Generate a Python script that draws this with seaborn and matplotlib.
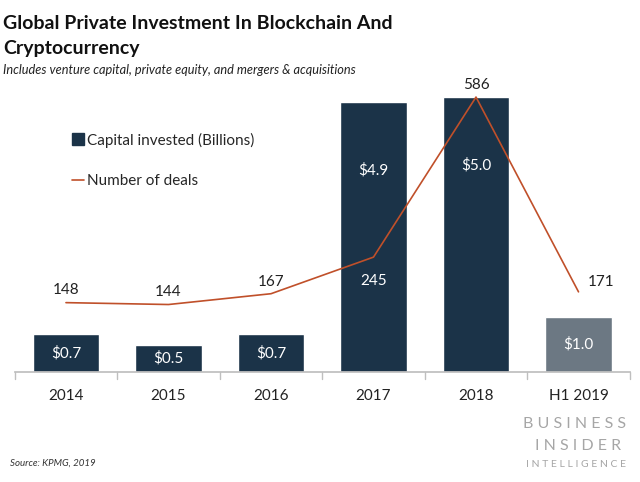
import seaborn as sns
import matplotlib.pyplot as plt
import pandas as pd
from matplotlib.lines import Line2D
from matplotlib.patches import Patch

# data
years = ['2014', '2015', '2016', '2017', '2018', 'H1 2019']
capital = [0.7, 0.5, 0.7, 4.9, 5.0, 1.0]
deals = [148, 144, 167, 245, 586, 171]

navy = '#1b3348'
grey = '#6c7883'
rust = '#c0502a'

sns.set_theme(style='white')
plt.rcParams['font.family'] = ['Lato', 'DejaVu Sans']

df = pd.DataFrame({'year': years, 'capital': capital, 'deals': deals})

fig = plt.figure(figsize=(6.4, 4.82), dpi=100)
ax = fig.add_axes([0.023, 0.228, 0.961, 0.594])

bar_colors = [navy] * 5 + [grey]
sns.barplot(data=df, x='year', y='capital', hue='year', palette=bar_colors,
            legend=False, width=0.65, saturation=1, ax=ax)
ax.set_ylim(0, 5.2)

# value labels inside bars
for i, v in enumerate(capital):
    ypos = v / 2 if v < 2 else v * 0.75
    ax.text(i, ypos, f'${v:.1f}', color='white', ha='center', va='center', fontsize=11)

ax2 = ax.twinx()
sns.lineplot(x=list(range(len(years))), y=deals, color=rust, linewidth=1.2, ax=ax2)
ax2.set_ylim(0, 610)

for i, d in enumerate(deals):
    if d == 245:
        ax2.text(i, d - 50, str(d), ha='center', va='center', color='white', fontsize=11)
    elif i == len(deals) - 1:
        ax2.text(i + 0.22, d + 20, str(d), ha='center', va='center', color='#222222', fontsize=11)
    else:
        ax2.text(i, d + 26, str(d), ha='center', va='center', color='#222222', fontsize=11)

for a in (ax, ax2):
    a.set_yticks([])
    a.set_ylabel('')
    for s in ['top', 'right', 'left']:
        a.spines[s].set_visible(False)
ax2.spines['bottom'].set_visible(False)
ax.spines['bottom'].set_color('#bfbfbf')
ax.set_xlabel('')
ax.set_xlim(-0.5, len(years) - 0.5)
ax.set_xticks(range(len(years)))
ax.set_xticklabels(years, fontsize=11, color='#222222')
ax.tick_params(axis='x', length=0, pad=12)
# separators between categories
for b in [i - 0.5 for i in range(len(years) + 1)]:
    ax.plot([b, b], [0, -0.12], color='#bfbfbf', lw=1, clip_on=False)

handles = [Patch(facecolor=navy, edgecolor=navy),
           Line2D([0], [0], color=rust, lw=1.2)]
ax.legend(handles, ['Capital invested (Billions)', 'Number of deals'],
          loc='upper left', bbox_to_anchor=(0.07, 0.885), frameon=False,
          fontsize=11, handlelength=0.8, handleheight=0.8, handletextpad=0.2,
          labelspacing=1.75)

fig.text(0.005, 0.94, 'Global Private Investment In Blockchain And', fontsize=14,
         fontweight='bold', color='#111111', va='baseline')
fig.text(0.005, 0.887, 'Cryptocurrency', fontsize=14, fontweight='bold',
         color='#111111', va='baseline')
fig.text(0.005, 0.847, 'Includes venture capital, private equity, and mergers & acquisitions',
         fontsize=9.2, style='italic', color='#222222', va='baseline')
fig.text(0.015, 0.033, 'Source: KPMG, 2019', fontsize=7, style='italic', color='#333333')

fig.text(0.978, 0.112, 'B U S I N E S S', fontsize=11.5, color='#a6a6a6', ha='right')
fig.text(0.97, 0.067, 'I N S I D E R', fontsize=11.5, color='#a6a6a6', ha='right')
fig.text(0.978, 0.031, 'I N T E L L I G E N C E', fontsize=7.5, color='#a6a6a6', ha='right')

fig.savefig('out.png', dpi=100)
